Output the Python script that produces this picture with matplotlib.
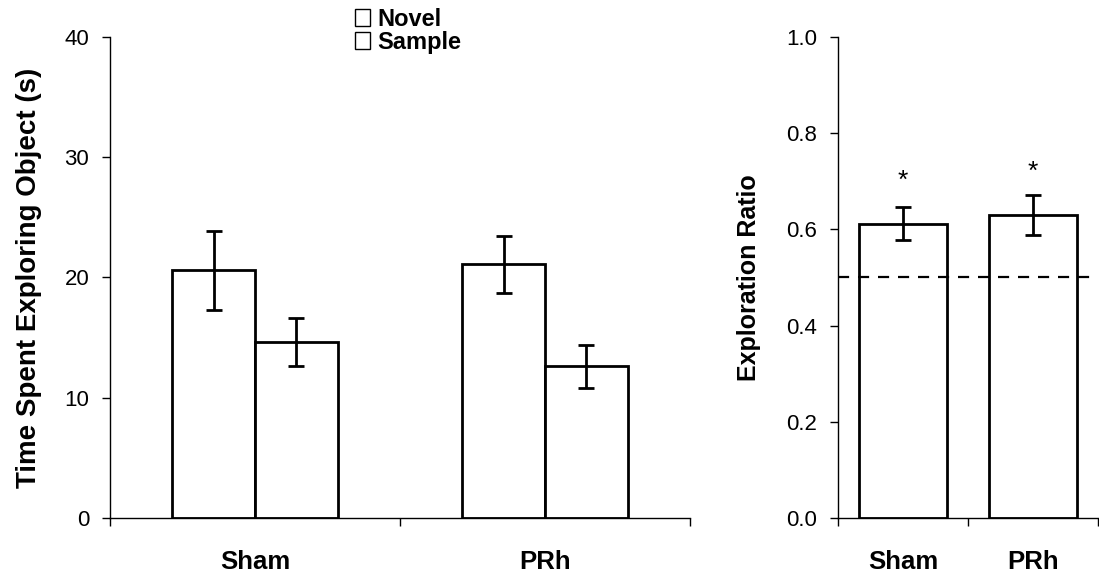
import numpy as np
import matplotlib
matplotlib.use('Agg')
import matplotlib.pyplot as plt
from matplotlib.patches import Patch

plt.rcParams['font.family'] = ['Liberation Sans', 'DejaVu Sans']

GROUPS = ['Sham', 'PRh']
NOVEL = [20.6, 21.1]
NOVEL_ERR = [3.3, 2.35]
SAMPLE = [14.6, 12.6]
SAMPLE_ERR = [2.0, 1.8]

RATIO = [0.612, 0.630]
RATIO_ERR = [0.034, 0.042]
STAR_Y = [0.70, 0.72]
CHANCE = 0.5


def style_axes(ax):
    for side in ['top', 'right']:
        ax.spines[side].set_visible(False)
    for side in ['left', 'bottom']:
        ax.spines[side].set_linewidth(1.0)
    ax.set_xlim(-0.5, 1.5)
    ax.set_xticks([-0.5, 0.5, 1.5])
    ax.set_xticklabels([])
    ax.set_xticks([0, 1], minor=True)
    ax.set_xticklabels(GROUPS, minor=True, fontsize=18.5, fontweight='bold')
    ax.tick_params(axis='x', which='major', direction='out', length=6, width=1)
    ax.tick_params(axis='x', which='minor', length=0, pad=23)
    ax.tick_params(axis='y', direction='out', length=6, width=1, labelsize=16, pad=9)


def main():
    fig = plt.figure(figsize=(10.99, 5.82), dpi=100)
    ax1 = fig.add_axes([0.1001, 0.110, 0.5277, 0.8265])
    ax2 = fig.add_axes([0.7625, 0.110, 0.2366, 0.8265])

    x = np.arange(len(GROUPS))
    w = 0.285
    err_kw = dict(ecolor='black', elinewidth=2, capsize=6, capthick=2)
    ax1.bar(x - w / 2, NOVEL, w, yerr=NOVEL_ERR, color='white',
            edgecolor='black', linewidth=2, error_kw=err_kw)
    ax1.bar(x + w / 2, SAMPLE, w, yerr=SAMPLE_ERR, color='white',
            edgecolor='black', linewidth=2, error_kw=err_kw)
    ax1.set_ylim(0, 40)
    ax1.set_yticks([0, 10, 20, 30, 40])
    style_axes(ax1)
    ax1.set_ylabel('Time Spent Exploring Object (s)', fontsize=20,
                   fontweight='bold', labelpad=16)

    ax2.bar(x, RATIO, 0.68, yerr=RATIO_ERR, color='white',
            edgecolor='black', linewidth=2, error_kw=err_kw, zorder=2)
    ax2.axhline(CHANCE, color='black', linestyle=(0, (5, 4)), linewidth=1.6, zorder=3)
    for xi, yi in zip(x, STAR_Y):
        ax2.text(xi, yi, '*', ha='center', va='center', fontsize=19)
    ax2.set_ylim(0, 1.0)
    ax2.set_yticks([0.0, 0.2, 0.4, 0.6, 0.8, 1.0])
    ax2.set_yticklabels(['0.0', '0.2', '0.4', '0.6', '0.8', '1.0'])
    style_axes(ax2)
    ax2.set_ylabel('Exploration Ratio', fontsize=18, fontweight='bold', labelpad=18)

    handles = [Patch(facecolor='white', edgecolor='black', linewidth=1),
               Patch(facecolor='white', edgecolor='black', linewidth=1)]
    fig.legend(handles, ['Novel', 'Sample'], loc='upper left',
               bbox_to_anchor=(0.323, 0.987), frameon=False, borderpad=0,
               borderaxespad=0, prop=dict(size=17, weight='bold'),
               handlelength=0.65, handleheight=0.7, handletextpad=0.3,
               labelspacing=0.0)

    fig.savefig('out.png', dpi=100)
    plt.close(fig)


if __name__ == '__main__':
    main()
